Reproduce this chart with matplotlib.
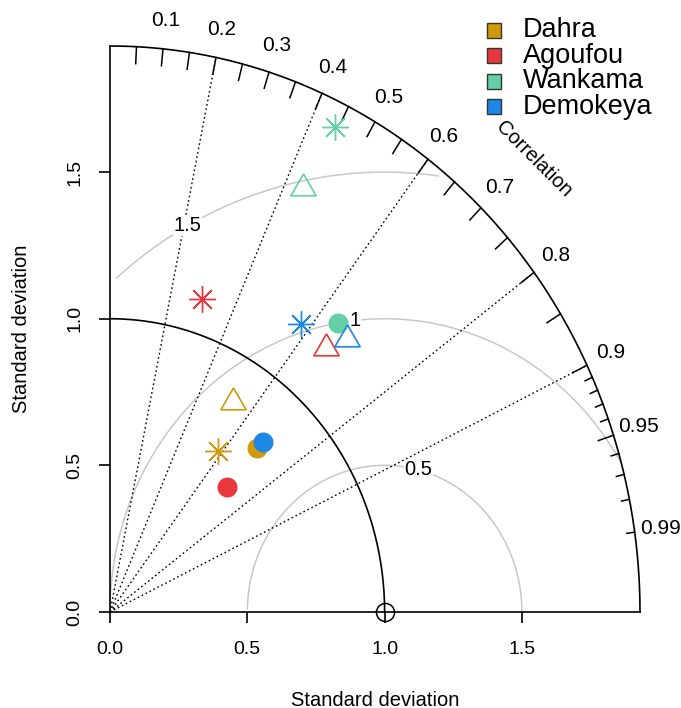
import numpy as np
import matplotlib
matplotlib.use("Agg")
import matplotlib.pyplot as plt
from matplotlib.patches import Rectangle

plt.rcParams['font.family'] = ['Liberation Sans', 'DejaVu Sans']

sites = ["Dahra", "Agoufou", "Wankama", "Demokeya"]
colors = ["#D09A0C", "#E8383D", "#63D0A6", "#1E88E5"]

# normalised standard deviation and correlation of each product per site
sd_star = [0.677, 1.118, 1.846, 1.204]
cor_star = [0.583, 0.299, 0.444, 0.577]
sd_tri = [0.846, 1.197, 1.608, 1.269]
cor_tri = [0.531, 0.658, 0.438, 0.679]
sd_dot = [0.774, 0.603, 1.288, 0.804]
cor_dot = [0.693, 0.705, 0.645, 0.691]

ref_sd = 1.0
max_sd = 1.93
corr_lines = [0.2, 0.4, 0.6, 0.8, 0.9]
corr_labels = [0.1, 0.2, 0.3, 0.4, 0.5, 0.6, 0.7, 0.8, 0.9, 0.95, 0.99]
rms_levels = [0.5, 1, 1.5]
sd_ticks = [0.0, 0.5, 1.0, 1.5]


def polar(sd, cor):
    sd = np.asarray(sd)
    ang = np.arccos(np.asarray(cor))
    return sd * np.cos(ang), sd * np.sin(ang)


fig = plt.figure(figsize=(6.81, 7.08), dpi=100)
ax = fig.add_axes([110 / 681, 96 / 708, 530 / 681, 566 / 708])
ax.set_xlim(0, max_sd)
ax.set_ylim(0, max_sd)
for s in ["top", "right"]:
    ax.spines[s].set_visible(False)
for s in ["left", "bottom"]:
    ax.spines[s].set_linewidth(1.2)
ax.set_xticks(sd_ticks, [f"{t:.1f}" for t in sd_ticks])
ax.set_yticks(sd_ticks, [f"{t:.1f}" for t in sd_ticks])
ax.tick_params(axis="both", labelsize=14, length=8, width=1.2)
ax.tick_params(axis="x", pad=13)
ax.tick_params(axis="y", pad=11)
for lab in ax.get_yticklabels():
    lab.set_rotation(90)
    lab.set_va("center")

# outer arc and reference sd arc
th = np.linspace(0, np.pi / 2, 300)
ax.plot(max_sd * np.cos(th), max_sd * np.sin(th), color="black", lw=1.2, clip_on=False)
ax.plot(ref_sd * np.cos(th), ref_sd * np.sin(th), color="black", lw=1.2)

# correlation rays
for c in corr_lines:
    a = np.arccos(c)
    ax.plot([0, max_sd * np.cos(a)], [0, max_sd * np.sin(a)], color="black",
            lw=1, ls=(0, (1.2, 2)))

# ticks on the outer arc
big = np.arange(0.05, 0.951, 0.05)
small = [0.91, 0.92, 0.93, 0.94, 0.96, 0.97, 0.98, 0.99]
for c in big:
    a = np.arccos(c)
    ax.plot([max_sd * np.cos(a), 0.97 * max_sd * np.cos(a)],
            [max_sd * np.sin(a), 0.97 * max_sd * np.sin(a)], color="black", lw=1.1)
for c in small:
    a = np.arccos(c)
    ax.plot([max_sd * np.cos(a), 0.985 * max_sd * np.cos(a)],
            [max_sd * np.sin(a), 0.985 * max_sd * np.sin(a)], color="black", lw=1.1)
for c in corr_labels:
    a = np.arccos(c)
    ax.text(1.05 * max_sd * np.cos(a), 1.05 * max_sd * np.sin(a), f"{c:g}",
            ha="center", va="center", fontsize=15, clip_on=False)
ax.text(0.8 * max_sd, 0.8 * max_sd, "Correlation", rotation=-45,
        ha="center", va="center", fontsize=14.5)

# centred rms arcs
steps = np.arange(0, np.pi, 0.03)
label_pos = [44, 56, 69]
for g, lp in zip(rms_levels, label_pos):
    xc = np.cos(steps) * g + ref_sd
    yc = np.sin(steps) * g
    keep = (xc >= 0) & (xc ** 2 + yc ** 2 <= max_sd ** 2)
    ax.plot(xc[keep], yc[keep], color="#C8C8C8", lw=1.1, zorder=1)
    ax.text(np.cos(lp * 0.03) * g + ref_sd, np.sin(lp * 0.03) * g, f"{g:g}",
            ha="center", va="center", fontsize=14.5,
            bbox=dict(facecolor="white", edgecolor="none", pad=0.5), zorder=2)

# reference point
ax.plot([ref_sd], [0], marker="o", ms=13, mfc="none", mec="black", mew=1.1,
        clip_on=False, zorder=5)

tri = [(0, 1), (-0.866, -0.5), (0.866, -0.5), (0, 1)]
for i, col in enumerate(colors):
    x, y = polar(sd_star[i], cor_star[i])
    ax.plot(x, y, marker=(8, 2, 0), ms=19, mec=col, mew=1.0, ls="none", zorder=4)
    x, y = polar(sd_tri[i], cor_tri[i])
    ax.plot(x, y, marker=tri, ms=21, mfc="none", mec=col, mew=1.2, ls="none", zorder=4)
    x, y = polar(sd_dot[i], cor_dot[i])
    ax.plot(x, y, marker="o", ms=14.4, mfc=col, mec="none", ls="none", zorder=4)

# legend
for i, (name, col) in enumerate(zip(sites, colors)):
    yc = 708 - (30 + 25.6 * i)
    fig.patches.append(Rectangle(((494 - 7.5) / 681, (yc - 7.5) / 708), 15 / 681, 15 / 708,
                                 facecolor=col, edgecolor="#333333", lw=1,
                                 transform=fig.transFigure))
    fig.text(523 / 681, yc / 708, name, fontsize=19.5, va="center", ha="left")

fig.text(375 / 681, 1 - 700 / 708, "Standard deviation", fontsize=14.5,
         ha="center", va="center")
fig.text(22 / 681, 1 - 329 / 708, "Standard deviation", fontsize=14.5,
         ha="center", va="center", rotation=90)

fig.savefig("out.png", dpi=100)
